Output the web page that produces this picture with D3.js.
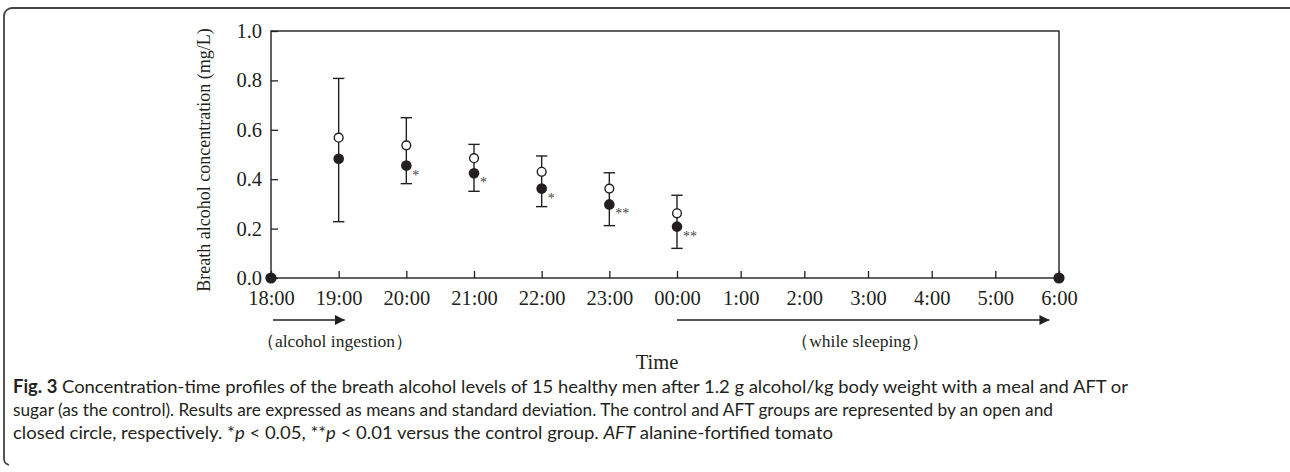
<!DOCTYPE html>
<html>
<head>
<meta charset="utf-8">
<script src="https://cdn.jsdelivr.net/npm/d3@7"></script>
<style>
  body{margin:0;background:#fff;}
  svg{display:block;}
  .serif{font-family:"Liberation Serif","Times New Roman",serif;fill:#231f20;}
</style>
</head>
<body>
<svg width="1290" height="472"></svg>
<script>
/*Data*/
const hourLabels=['18:00','19:00','20:00','21:00','22:00','23:00','00:00','1:00','2:00','3:00','4:00','5:00','6:00'];
const sampleHour=[1,2,3,4,5,6];
const controlMean=[0.568,0.537,0.485,0.430,0.362,0.262];
const controlSD=[0.240,0.112,0.056,0.064,0.064,0.073];
const aftMean=[0.483,0.455,0.424,0.362,0.298,0.208];
const aftSD=[0.255,0.073,0.073,0.073,0.086,0.088];
const signif=['','*','*','*','**','**'];
const baseHour=[0,12];
const baseValue=[0,0];
const yTicks=[0,0.2,0.4,0.6,0.8,1.0];

let svg=d3.select('svg');
const ink='#231f20';

/*the night half of the axis is drawn a little tighter than the evening half*/
let x=d3.scaleLinear().domain([0,6,12]).range([271,677,1059]);
let y=d3.scaleLinear().domain([0,1]).range([278,31]);

/*outer rounded box*/
svg.append('path')
  .attr('d','M1290,8 H12 A8,8 0 0 0 4,16 V458 A7,7 0 0 0 9,465')
  .attr('fill','none').attr('stroke','#444').attr('stroke-width',1.8);

/*axes, ticks pointing inwards*/
let yAxis=svg.append('g').attr('class','serif').attr('transform','translate('+x(0)+',0)')
  .call(d3.axisLeft(y).tickValues(yTicks).tickSize(-7).tickPadding(9).tickFormat(d3.format('.1f')));
let xAxis=svg.append('g').attr('class','serif').attr('transform','translate(0,'+y(0)+')')
  .call(d3.axisBottom(x).tickValues(d3.range(0,13)).tickSize(-7).tickPadding(12).tickFormat((d)=>hourLabels[d]));
[yAxis,xAxis].forEach((g)=>{
  g.select('.domain').remove();
  g.selectAll('line').attr('stroke',ink).attr('stroke-width',1.3);
  g.selectAll('text').attr('fill',ink).style('font-size','20.5px').style('font-family','"Liberation Serif",serif');
});

/*frame*/
svg.append('rect')
  .attr('x',x(0)).attr('y',y(1)).attr('width',x(12)-x(0)).attr('height',y(0)-y(1))
  .attr('fill','none').attr('stroke',ink).attr('stroke-width',1.4);

/*error bars: control +SD on top, AFT -SD below*/
let pts=sampleHour.map((h,i)=>({h:h,c:controlMean[i],cs:controlSD[i],a:aftMean[i],as:aftSD[i],s:signif[i]}));
let bars=svg.append('g').attr('stroke',ink).attr('stroke-width',1.4);
bars.selectAll('line.v').data(pts).enter().append('line')
  .attr('x1',(d)=>x(d.h)).attr('x2',(d)=>x(d.h))
  .attr('y1',(d)=>y(d.c+d.cs)).attr('y2',(d)=>y(d.a-d.as));
bars.selectAll('line.top').data(pts).enter().append('line')
  .attr('x1',(d)=>x(d.h)-5.7).attr('x2',(d)=>x(d.h)+5.7)
  .attr('y1',(d)=>y(d.c+d.cs)).attr('y2',(d)=>y(d.c+d.cs));
bars.selectAll('line.bot').data(pts).enter().append('line')
  .attr('x1',(d)=>x(d.h)-5.7).attr('x2',(d)=>x(d.h)+5.7)
  .attr('y1',(d)=>y(d.a-d.as)).attr('y2',(d)=>y(d.a-d.as));

/*markers*/
svg.append('g').selectAll('circle').data(pts).enter().append('circle')
  .attr('cx',(d)=>x(d.h)).attr('cy',(d)=>y(d.c)).attr('r',4.4)
  .attr('fill','#fff').attr('stroke',ink).attr('stroke-width',1.4);
svg.append('g').selectAll('circle').data(pts).enter().append('circle')
  .attr('cx',(d)=>x(d.h)).attr('cy',(d)=>y(d.a)).attr('r',5.3)
  .attr('fill',ink);
svg.append('g').selectAll('circle').data(baseHour).enter().append('circle')
  .attr('cx',(d)=>x(d)).attr('cy',(d,i)=>y(baseValue[i])).attr('r',5.6)
  .attr('fill',ink);

/*significance marks*/
svg.append('g').selectAll('text').data(pts.filter((d)=>d.s)).enter().append('text')
  .attr('class','serif')
  .attr('x',(d)=>x(d.h)+6).attr('y',(d)=>y(d.a)+14)
  .style('font-size','14px').style('fill','#444')
  .text((d)=>d.s);

/*axis titles*/
svg.append('text').attr('class','serif')
  .attr('transform','translate(210,160) rotate(-90)')
  .attr('text-anchor','middle').style('font-size','18px')
  .text('Breath alcohol concentration (mg/L)');
svg.append('text').attr('class','serif')
  .attr('x',657).attr('y',369).attr('text-anchor','middle').style('font-size','20.5px')
  .text('Time');

/*period arrows*/
let defs=svg.append('defs');
defs.append('marker').attr('id','head').attr('viewBox','0 0 10 10')
  .attr('refX',10).attr('refY',5).attr('markerWidth',10).attr('markerHeight',10)
  .attr('markerUnits','userSpaceOnUse').attr('orient','auto')
  .append('path').attr('d','M0,0 L10,5 L0,10 z').attr('fill',ink);
const arrowFrom=[0.03,6];
const arrowTo=[1.09,11.85];
const arrowText=['（alcohol ingestion）','（while sleeping）'];
svg.append('g').selectAll('line').data(arrowFrom).enter().append('line')
  .attr('x1',(d)=>x(d)).attr('x2',(d,i)=>x(arrowTo[i]))
  .attr('y1',320).attr('y2',320)
  .attr('stroke',ink).attr('stroke-width',1.6).attr('marker-end','url(#head)');
svg.append('g').selectAll('text').data(arrowText).enter().append('text')
  .attr('class','serif')
  .attr('x',(d,i)=>i==0?335:860).attr('y',347)
  .attr('text-anchor','middle').style('font-size','17.5px')
  .text((d)=>d);

/*caption, each line squeezed to the width it has in the figure*/
let cap=svg.append('g').attr('transform','translate(13,0)')
  .style('font-family','Lato,"Open Sans",sans-serif').style('font-size','18px').style('fill','#231f20');
let l1=cap.append('text').attr('y',393).attr('textLength',1115).attr('lengthAdjust','spacingAndGlyphs');
l1.append('tspan').style('font-weight','bold').text('Fig. 3');
l1.append('tspan').text(' Concentration-time profiles of the breath alcohol levels of 15 healthy men after 1.2 g alcohol/kg body weight with a meal and AFT or');
cap.append('text').attr('y',416).attr('textLength',1040).attr('lengthAdjust','spacingAndGlyphs')
  .text('sugar (as the control). Results are expressed as means and standard deviation. The control and AFT groups are represented by an open and');
let l3=cap.append('text').attr('y',439).attr('textLength',820).attr('lengthAdjust','spacingAndGlyphs');
l3.append('tspan').text('closed circle, respectively. *');
l3.append('tspan').style('font-style','italic').text('p');
l3.append('tspan').text(' < 0.05, **');
l3.append('tspan').style('font-style','italic').text('p');
l3.append('tspan').text(' < 0.01 versus the control group. ');
l3.append('tspan').style('font-style','italic').text('AFT');
l3.append('tspan').text(' alanine-fortified tomato');
</script>
</body>
</html>
